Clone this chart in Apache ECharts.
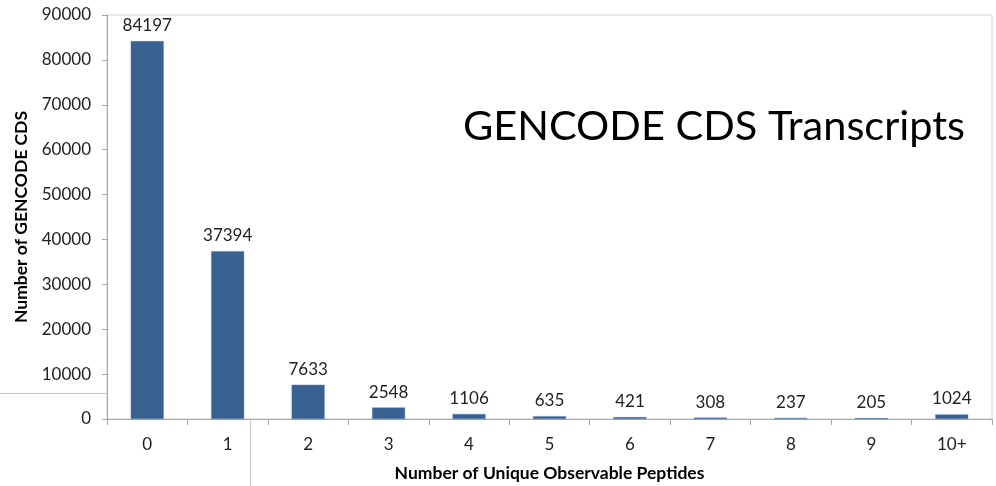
<!DOCTYPE html>
<html>
<head>
<meta charset="utf-8">
<script src="https://cdn.jsdelivr.net/npm/echarts@6/dist/echarts.min.js"></script>
<style>
  html, body { margin: 0; padding: 0; background: #fff; }
  #chart { width: 996px; height: 486px; }
</style>
</head>
<body>
<div id="chart"></div>
<script>
// Peptide-count bins and the number of CDS transcripts in each
const categories = ['0', '1', '2', '3', '4', '5', '6', '7', '8', '9', '10+'];
const transcriptCounts = [84197, 37394, 7633, 2548, 1106, 635, 421, 308, 237, 205, 1024];
const yTicks = { min: 0, max: 90000, interval: 10000 };

const FONT = 'Lato, "Open Sans", sans-serif';
const chart = echarts.init(document.getElementById('chart'));

chart.setOption({
  animation: false,
  textStyle: { fontFamily: FONT },
  grid: {
    left: 107, right: 4, top: 15, bottom: 67,
    outerBoundsMode: 'none',
    show: true, borderColor: '#d4d4d4', borderWidth: 1, backgroundColor: 'transparent'
  },
  graphic: [
    {
      type: 'text', left: 463, top: 106,
      style: { text: 'GENCODE CDS Transcripts', font: '41.5px ' + FONT, fill: '#000' }
    },
    // leftover slide rules around the plot
    { type: 'line', shape: { x1: 0, y1: 393.5, x2: 107, y2: 393.5 }, style: { stroke: '#c8c8c8', lineWidth: 1 } },
    { type: 'line', shape: { x1: 250.5, y1: 420, x2: 250.5, y2: 486 }, style: { stroke: '#c8c8c8', lineWidth: 1 } }
  ],
  xAxis: {
    type: 'category',
    data: categories,
    name: 'Number of Unique Observable Peptides',
    nameLocation: 'middle',
    nameGap: 45,
    nameTextStyle: { fontSize: 17.5, fontWeight: 'bold', color: '#000', fontFamily: FONT },
    axisLine: { lineStyle: { color: '#a6a6a6', width: 1 } },
    axisTick: { show: true, length: 6, lineStyle: { color: '#a6a6a6' } },
    axisLabel: { fontSize: 17, color: '#222', margin: 17 },
    splitLine: { show: false }
  },
  yAxis: {
    type: 'value',
    min: yTicks.min, max: yTicks.max, interval: yTicks.interval,
    name: 'Number of GENCODE CDS',
    nameLocation: 'middle',
    nameGap: 77,
    nameTextStyle: { fontSize: 17.5, fontWeight: 'bold', color: '#000', fontFamily: FONT },
    axisLine: { show: true, lineStyle: { color: '#a6a6a6', width: 1 } },
    axisTick: { show: true, length: 5, lineStyle: { color: '#a6a6a6' } },
    axisLabel: { fontSize: 17, color: '#222', margin: 16, formatter: v => String(v) },
    splitLine: { show: false }
  },
  series: [{
    type: 'bar',
    data: transcriptCounts,
    barWidth: 33,
    itemStyle: { color: '#386192', borderColor: '#5a7fae', borderWidth: 0.5 },
    label: {
      show: true, position: 'top', distance: 7,
      fontSize: 17, color: '#222', fontFamily: FONT
    }
  }]
});
</script>
</body>
</html>
